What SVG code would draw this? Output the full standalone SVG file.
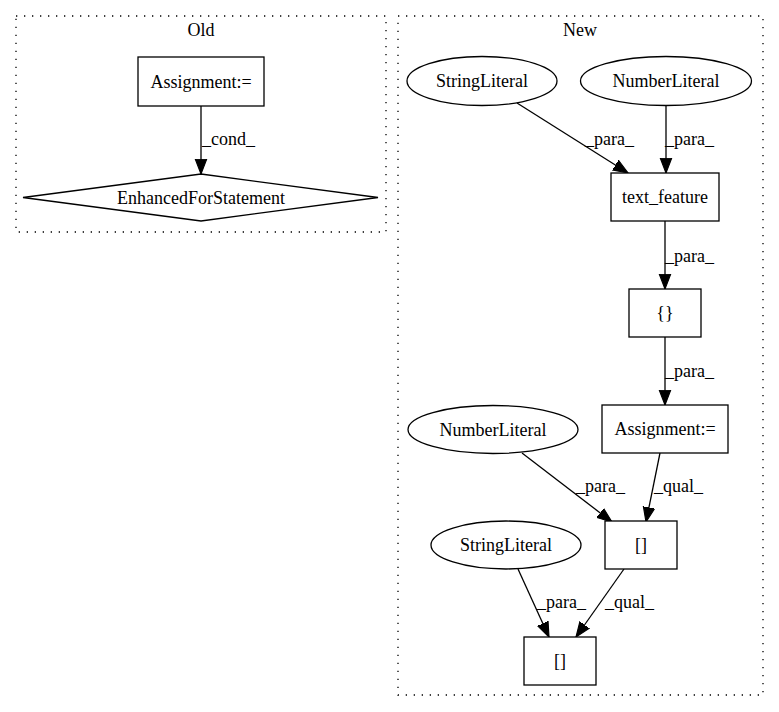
<svg xmlns="http://www.w3.org/2000/svg" width="779" height="712" viewBox="0 0 779 712">
<style>
text{font-family:"Liberation Serif","Times New Roman",serif;font-size:18px;fill:#000}
.n{fill:#fff;stroke:#000;stroke-width:1.3}
.c{fill:none;stroke:#000;stroke-width:1.3;stroke-dasharray:1.3,6.7}
.e{fill:none;stroke:#000;stroke-width:1.3;marker-end:url(#ah)}
.m{text-anchor:middle}
</style>
<defs>
<marker id="ah" markerUnits="userSpaceOnUse" markerWidth="16" markerHeight="14" refX="13" refY="5" orient="auto" viewBox="0 0 14 10">
<path d="M0,0L13,5L0,10Z" fill="#000" stroke="#000" stroke-width="1"/>
</marker>
</defs>
<rect width="779" height="712" fill="#fff"/>
<g id="clusters">
<rect class="c" x="16" y="16" width="370" height="216"/>
<text class="m" x="201" y="36">Old</text>
<rect class="c" x="398" y="16" width="365" height="679"/>
<text class="m" x="580" y="36">New</text>
</g>
<g id="connectors">
<path class="e" d="M201,106L201,174"/>
<text x="202" y="145">_cond_</text>
<path class="e" d="M517,103L628,173"/>
<text x="585" y="145">_para_</text>
<path class="e" d="M666,106L666,173"/>
<text x="665" y="145">_para_</text>
<path class="e" d="M665,221L665,289"/>
<text x="665" y="262">_para_</text>
<path class="e" d="M665,337L665,405"/>
<text x="665" y="377">_para_</text>
<path class="e" d="M522,453L612,522"/>
<text x="576" y="492">_para_</text>
<path class="e" d="M660,453L646,522"/>
<text x="654" y="492">_qual_</text>
<path class="e" d="M518,569L549,637"/>
<text x="537" y="608">_para_</text>
<path class="e" d="M624,569L576,637"/>
<text x="605" y="608">_qual_</text>
</g>
<g id="old_assignment">
<rect class="n" x="138" y="57" width="126" height="49"/>
<text class="m" x="201" y="88">Assignment:=</text>
</g>
<g id="old_for">
<polygon class="n" points="201,174 378,197.5 201,221 23,197.5"/>
<text class="m" x="201" y="204">EnhancedForStatement</text>
</g>
<g id="string1">
<ellipse class="n" cx="482" cy="81" rx="75" ry="24.5"/>
<text class="m" x="482" y="87">StringLiteral</text>
</g>
<g id="number1">
<ellipse class="n" cx="666" cy="81" rx="85.5" ry="24.5"/>
<text class="m" x="666" y="87">NumberLiteral</text>
</g>
<g id="text_feature">
<rect class="n" x="611" y="173" width="108" height="48"/>
<text class="m" x="665" y="203">text_feature</text>
</g>
<g id="braces">
<rect class="n" x="629" y="289" width="72" height="48"/>
<text class="m" x="665" y="319">{}</text>
</g>
<g id="new_assignment">
<rect class="n" x="602" y="405" width="126" height="48"/>
<text class="m" x="665" y="435">Assignment:=</text>
</g>
<g id="number2">
<ellipse class="n" cx="493" cy="429.5" rx="85" ry="24"/>
<text class="m" x="493" y="436">NumberLiteral</text>
</g>
<g id="index1">
<rect class="n" x="605" y="521" width="72" height="48"/>
<text class="m" x="641" y="551">[]</text>
</g>
<g id="string2">
<ellipse class="n" cx="506" cy="545" rx="75" ry="24"/>
<text class="m" x="506" y="551">StringLiteral</text>
</g>
<g id="index2">
<rect class="n" x="524" y="637" width="72" height="48"/>
<text class="m" x="560" y="667">[]</text>
</g>
</svg>
